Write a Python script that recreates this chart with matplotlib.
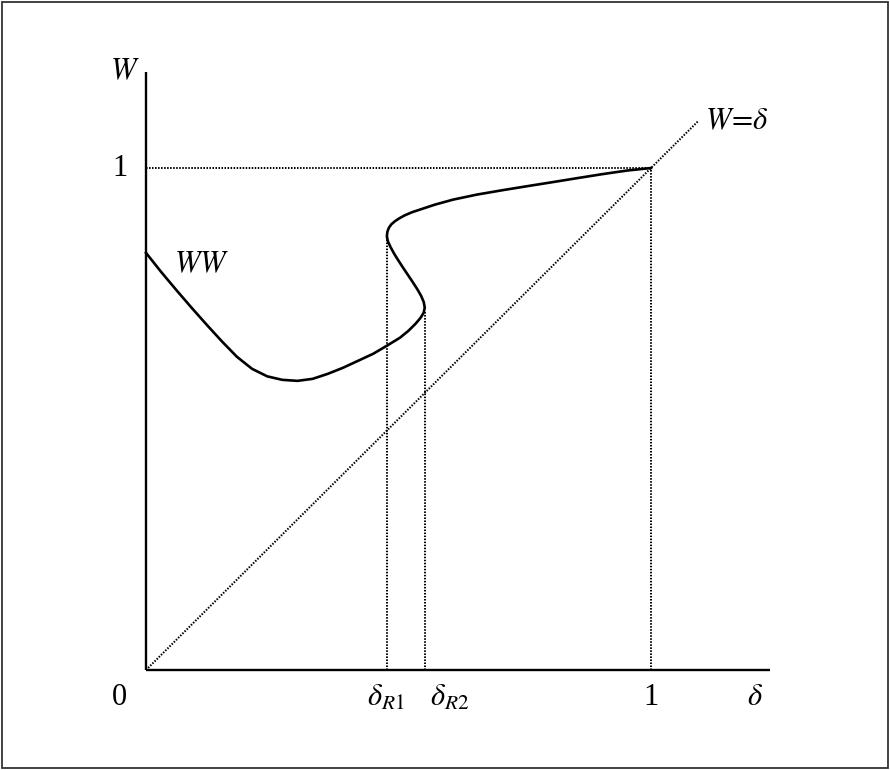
import matplotlib.pyplot as plt
from matplotlib.patches import Rectangle

plt.rcParams['mathtext.fontset'] = 'stix'
plt.rcParams['font.family'] = ['Liberation Serif', 'DejaVu Serif']

# WW curve, (delta, W) pairs traced along the S-shaped branch
ww_delta = [0.0, 0.03, 0.06, 0.09, 0.12, 0.15, 0.18, 0.21, 0.24, 0.27,
            0.30, 0.33, 0.36, 0.39, 0.42, 0.45, 0.477, 0.503, 0.520, 0.534,
            0.544, 0.550, 0.552, 0.550, 0.545, 0.537, 0.528, 0.518, 0.508, 0.499,
            0.491, 0.484, 0.479, 0.477, 0.478, 0.481, 0.486, 0.493, 0.502, 0.513,
            0.527, 0.545, 0.572, 0.608, 0.655, 0.707, 0.756, 0.806, 0.855, 0.905,
            0.953, 1.0]
ww_w = [0.831, 0.793, 0.757, 0.722, 0.688, 0.655, 0.624, 0.600, 0.585, 0.578,
        0.576, 0.580, 0.590, 0.602, 0.616, 0.630, 0.646, 0.662, 0.676, 0.690,
        0.702, 0.712, 0.722, 0.733, 0.745, 0.759, 0.773, 0.788, 0.803, 0.817,
        0.830, 0.843, 0.854, 0.864, 0.873, 0.881, 0.888, 0.894, 0.900, 0.906,
        0.912, 0.918, 0.927, 0.937, 0.947, 0.956, 0.964, 0.972, 0.980, 0.988,
        0.995, 1.0]

delta_r1, w_r1 = 0.477, 0.861
delta_r2, w_r2 = 0.552, 0.713
diag_end = 1.093
x_axis_end = 1.236
y_axis_end = 1.191

fig = plt.figure(figsize=(8.9, 7.7), dpi=100)
ax = fig.add_axes([0, 0, 1, 1])
ax.set_xlim(-0.2891, 1.4733)
ax.set_ylim(-0.1992, 1.3347)
ax.axis('off')

# frame round the whole figure
ax.add_patch(Rectangle((2 / 890, 2 / 770), 886 / 890, 766 / 770, transform=ax.transAxes,
                       fill=False, lw=1.3, ec='#333333'))

# axes
ax.plot([0, x_axis_end], [0, 0], color='black', lw=1.7, solid_capstyle='butt')
ax.plot([0, 0], [0, y_axis_end], color='black', lw=1.7, solid_capstyle='butt')

# guide lines
dot = dict(color='black', lw=1.45, ls=(0, (0.75, 0.75)))
ax.plot([0, diag_end], [0, diag_end], **dot)
ax.plot([0, 1], [1, 1], **dot)
ax.plot([1, 1], [0, 1], **dot)
ax.plot([delta_r1, delta_r1], [0, w_r1], **dot)
ax.plot([delta_r2, delta_r2], [0, w_r2], **dot)

# the WW curve
ax.plot(ww_delta, ww_w, color='black', lw=1.9, solid_joinstyle='round')

fs = 22
ax.text(-0.042, 1.192, '$W$', fontsize=fs, ha='center', va='center')
ax.text(-0.052, 1.0, '1', fontsize=fs, ha='center', va='center')
ax.text(0.109, 0.808, '$WW$', fontsize=fs, ha='center', va='center')
ax.text(1.170, 1.093, r'$W\!=\!\delta$', fontsize=fs, ha='center', va='center')
ax.text(-0.052, -0.054, '0', fontsize=fs, ha='center', va='center')
ax.text(delta_r1 - 0.002, -0.056, r'$\delta_{R1}$', fontsize=fs, ha='center', va='center')
ax.text(delta_r2 + 0.050, -0.056, r'$\delta_{R2}$', fontsize=fs, ha='center', va='center')
ax.text(1.0, -0.054, '1', fontsize=fs, ha='center', va='center')
ax.text(1.206, -0.054, r'$\delta$', fontsize=fs, ha='center', va='center')

fig.savefig('out.png', dpi=100)
